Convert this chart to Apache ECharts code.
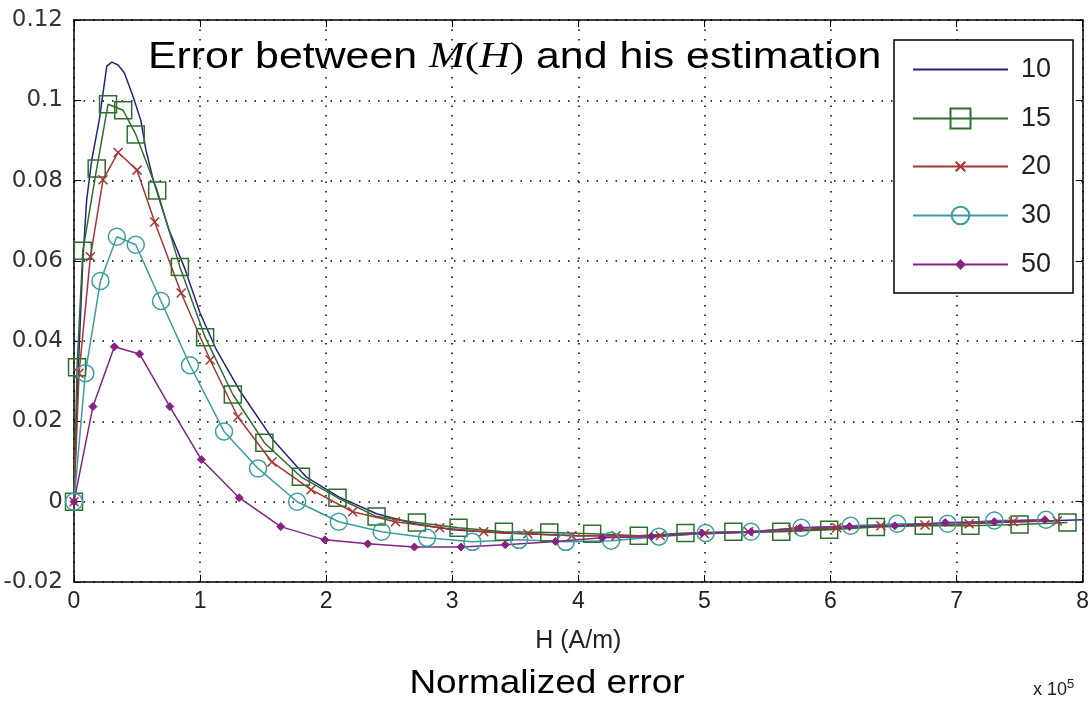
<!DOCTYPE html>
<html>
<head>
<meta charset="utf-8">
<script src="https://cdn.jsdelivr.net/npm/echarts@6/dist/echarts.min.js"></script>
<style>
html,body{margin:0;padding:0;background:#fff;}
#chart{width:1092px;height:709px;}
</style>
</head>
<body>
<div id="chart"></div>
<script>
// H values in units of 1e5 A/m
const seriesNames = ['10', '15', '20', '30', '50'];

const h10 = [0, 0.03, 0.07, 0.1, 0.14, 0.2, 0.26, 0.3, 0.35, 0.4, 0.47, 0.53, 0.57, 0.63, 0.75, 0.88, 1.0, 1.13, 1.31, 1.58, 1.84, 2.1, 2.4, 2.7, 3.0, 3.4, 4.0, 4.5, 5.0, 5.5, 6.0, 6.5, 7.0, 7.5, 8.0];
const e10 = [0, 0.03, 0.06, 0.075, 0.085, 0.095, 0.1085, 0.1095, 0.1088, 0.1068, 0.1008, 0.095, 0.0877, 0.080, 0.068, 0.058, 0.047, 0.0378, 0.0279, 0.0154, 0.0062, 0.0012, -0.003, -0.0055, -0.007, -0.0078, -0.0085, -0.0085, -0.008, -0.0075, -0.0068, -0.006, -0.0055, -0.005, -0.0045];

const h15 = [0, 0.024, 0.07, 0.18, 0.27, 0.39, 0.49, 0.66, 0.84, 1.04, 1.26, 1.51, 1.80, 2.09, 2.40, 2.72, 3.05, 3.41, 3.77, 4.11, 4.48, 4.85, 5.23, 5.61, 5.99, 6.36, 6.74, 7.11, 7.50, 7.88];
const e15 = [0, 0.0335, 0.0625, 0.083, 0.099, 0.0975, 0.0915, 0.0775, 0.0585, 0.041, 0.0267, 0.0147, 0.0062, 0.001, -0.0037, -0.0052, -0.0065, -0.0075, -0.0077, -0.008, -0.0085, -0.0078, -0.0075, -0.0075, -0.007, -0.0063, -0.006, -0.006, -0.0057, -0.0052];

const h20 = [0, 0.04, 0.13, 0.23, 0.35, 0.5, 0.64, 0.85, 1.08, 1.30, 1.57, 1.88, 2.21, 2.55, 2.9, 3.25, 3.6, 3.95, 4.3, 4.65, 5.0, 5.35, 5.7, 6.05, 6.4, 6.75, 7.1, 7.45, 7.8];
const e20 = [0, 0.032, 0.061, 0.0802, 0.087, 0.0826, 0.0697, 0.052, 0.0353, 0.0211, 0.0099, 0.003, -0.0025, -0.005, -0.0065, -0.0075, -0.008, -0.0085, -0.0085, -0.0085, -0.008, -0.0075, -0.007, -0.0065, -0.006, -0.0058, -0.0055, -0.005, -0.0048];

const h30 = [0, 0.09, 0.21, 0.34, 0.49, 0.69, 0.92, 1.19, 1.46, 1.77, 2.1, 2.44, 2.8, 3.16, 3.53, 3.9, 4.26, 4.64, 5.01, 5.37, 5.77, 6.16, 6.53, 6.93, 7.30, 7.71];
const e30 = [0, 0.032, 0.055, 0.066, 0.064, 0.050, 0.034, 0.0175, 0.0083, 0.0, -0.005, -0.0075, -0.009, -0.010, -0.0095, -0.010, -0.0097, -0.0087, -0.0078, -0.0075, -0.0065, -0.006, -0.0055, -0.0055, -0.0047, -0.0045];

const h50 = [0, 0.15, 0.32, 0.52, 0.76, 1.01, 1.31, 1.64, 1.99, 2.33, 2.70, 3.07, 3.42, 3.82, 4.19, 4.58, 4.98, 5.37, 5.76, 6.15, 6.51, 6.91, 7.3, 7.7];
const e50 = [0, 0.0237, 0.0386, 0.0368, 0.0237, 0.0105, 0.001, -0.0062, -0.0095, -0.0105, -0.0113, -0.0113, -0.0107, -0.0099, -0.009, -0.0087, -0.0078, -0.0075, -0.0065, -0.0062, -0.006, -0.0052, -0.005, -0.0045];

const xTicks = [0, 1, 2, 3, 4, 5, 6, 7, 8];
const yTicks = [-0.02, 0, 0.02, 0.04, 0.06, 0.08, 0.1, 0.12];

function pairs(h, e) { return h.map((v, i) => [v, e[i]]); }

const colors = ['#25257f', '#2e6e2e', '#a83434', '#3a9e9e', '#862286'];
const crossPath = 'path://M0,0L10,10M10,0L0,10';

const chart = echarts.init(document.getElementById('chart'), null, {renderer: 'canvas'});
const font = 'Liberation Sans, Arial, sans-serif';
const serif = 'Liberation Serif, DejaVu Serif, serif';

const axisCommon = {
  type: 'value',
  axisLine: {show: true, onZero: false, lineStyle: {color: '#000', width: 1.5}},
  axisTick: {show: true, inside: true, length: 7, lineStyle: {color: '#000'}},
};

// legend entries: centre y and icon height (symbol = 0.8 * height)
const legendRows = [
  {name: seriesNames[0], cy: 68, h: 20},
  {name: seriesNames[1], cy: 117, h: 25},
  {name: seriesNames[2], cy: 165, h: 12},
  {name: seriesNames[3], cy: 214, h: 22},
  {name: seriesNames[4], cy: 263, h: 10}
];
const legends = legendRows.map((r, i) => ({
  orient: 'vertical', left: 912, top: r.cy - 12,
  padding: 0, itemWidth: 95, itemHeight: r.h, selectedMode: false, z: 5,
  textStyle: {fontFamily: font, fontSize: 27, color: '#222', padding: [0, 0, 0, 8]},
  data: i === 0 ? [{name: r.name, itemStyle: {opacity: 0}}] : [r.name]
}));

const option = {
  backgroundColor: '#fff',
  animation: false,
  grid: {left: 74, right: 7, top: 20, bottom: 127, show: false},
  xAxis: [
    Object.assign({}, axisCommon, {
      min: xTicks[0], max: xTicks[xTicks.length - 1], interval: 1,
      position: 'bottom',
      name: 'H (A/m)', nameLocation: 'middle', nameGap: 47,
      nameTextStyle: {fontFamily: font, fontSize: 25, color: '#222'},
      axisLabel: {fontFamily: font, fontSize: 23, color: '#222', margin: 8},
      splitLine: {show: true, lineStyle: {color: '#000', type: [1.5, 8], width: 1.5}}
    }),
    Object.assign({}, axisCommon, {
      min: xTicks[0], max: xTicks[xTicks.length - 1], interval: 1,
      position: 'top', axisLabel: {show: false}, splitLine: {show: false}
    })
  ],
  yAxis: [
    Object.assign({}, axisCommon, {
      min: yTicks[0], max: yTicks[yTicks.length - 1], interval: 0.02,
      position: 'left',
      axisLabel: {fontFamily: 'DejaVu Sans, sans-serif', fontSize: 23, color: '#333', margin: 11,
        formatter: v => String(Math.round(v * 100) / 100)},
      splitLine: {show: true, lineStyle: {color: '#000', type: [1.5, 8], width: 1.5}}
    }),
    Object.assign({}, axisCommon, {
      min: yTicks[0], max: yTicks[yTicks.length - 1], interval: 0.02,
      position: 'right', axisLabel: {show: false}, splitLine: {show: false}
    })
  ],
  legend: legends,
  graphic: [
    {type: 'rect', z: 3, shape: {x: 894, y: 40, width: 179, height: 253},
      style: {fill: '#fff', stroke: '#000', lineWidth: 1.5}},
    {type: 'text', z: 3, x: 148, y: 40, scaleX: 1.19, style: {
      rich: {
        a: {fontFamily: font, fontSize: 36, fill: '#000'},
        m: {fontFamily: serif, fontStyle: 'italic', fontSize: 36, fill: '#000'},
        p: {fontFamily: serif, fontSize: 36, fill: '#000'}
      },
      text: '{a|Error between }{m|M}{p|(}{m|H}{p|)}{a| and his estimation}'
    }},
    {type: 'text', x: 1033, y: 678, style: {
      rich: {
        a: {fontFamily: font, fontSize: 18, fill: '#222'},
        s: {fontFamily: font, fontSize: 13, fill: '#222', verticalAlign: 'top', padding: [0, 0, 12, 0]}
      },
      text: '{a|x 10}{s|5}'
    }},
    {type: 'text', x: 547, y: 684, scaleX: 1.12, style: {
      text: 'Normalized error', fontFamily: font, fontSize: 33, fill: '#000',
      textAlign: 'center', textVerticalAlign: 'middle'
    }}
  ],
  series: [
    {name: seriesNames[0], type: 'line', data: pairs(h10, e10), symbol: 'none', showSymbol: false,
      lineStyle: {color: colors[0], width: 1.5}, itemStyle: {color: colors[0]}},
    {name: seriesNames[1], type: 'line', data: pairs(h15, e15), symbol: 'rect', symbolSize: 17,
      lineStyle: {color: colors[1], width: 1.5},
      itemStyle: {color: 'transparent', borderColor: colors[1], borderWidth: 1.5}},
    {name: seriesNames[2], type: 'line', data: pairs(h20, e20), symbol: crossPath, symbolSize: 9,
      lineStyle: {color: colors[2], width: 1.5},
      itemStyle: {color: 'transparent', borderColor: colors[2], borderWidth: 1.5}},
    {name: seriesNames[3], type: 'line', data: pairs(h30, e30), symbol: 'circle', symbolSize: 17,
      lineStyle: {color: colors[3], width: 1.5},
      itemStyle: {color: 'transparent', borderColor: colors[3], borderWidth: 1.5}},
    {name: seriesNames[4], type: 'line', data: pairs(h50, e50), symbol: 'diamond', symbolSize: 8,
      lineStyle: {color: colors[4], width: 1.5},
      itemStyle: {color: colors[4], borderColor: colors[4], borderWidth: 1}}
  ]
};
chart.setOption(option);
</script>
</body>
</html>
